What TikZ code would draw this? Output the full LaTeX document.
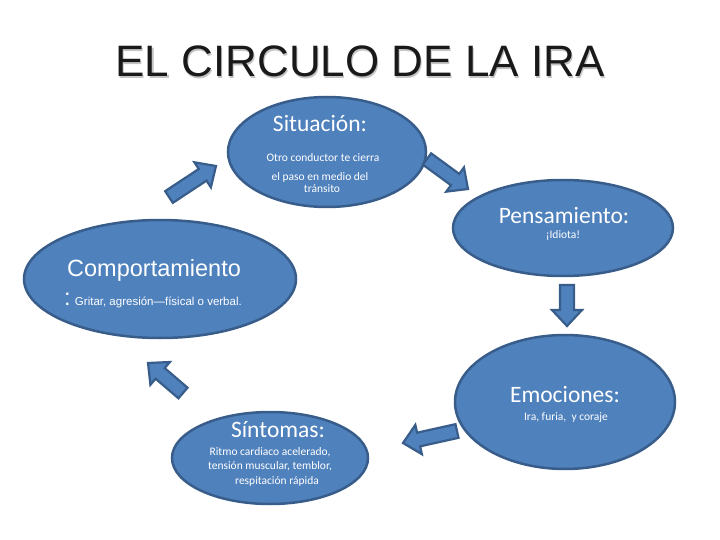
\documentclass[tikz,border=0pt]{standalone}
\usepackage{fontspec}
\setmainfont{Carlito}
\newfontfamily\arialf{Liberation Sans}
\usetikzlibrary{calc,shapes.geometric}
\definecolor{fillblue}{HTML}{4F81BD}
\definecolor{edgeblue}{HTML}{385D8A}
\definecolor{shadowgray}{HTML}{C4C4C4}
\tikzset{
  bubble/.style={ellipse, draw=edgeblue, fill=fillblue, line width=2.5pt, inner sep=0pt},
  barrow/.style={draw=edgeblue, fill=fillblue, line width=2.2pt, line join=miter},
  head/.style={text=white, inner sep=0pt, anchor=base, font=\fontsize{23.5}{26}\selectfont},
  small/.style={text=white, inner sep=0pt, anchor=base, font=\fontsize{11.5}{13}\selectfont},
}
\newcommand\blockarrow[3]{%
  \coordinate (#1n) at ($(#3)!16pt!(#2)$);
  \draw[barrow] ($(#2)!7pt!90:(#3)$) -- ($(#1n)!7pt!90:(#3)$) -- ($(#1n)!15pt!90:(#3)$) -- (#3)
    -- ($(#1n)!15pt!-90:(#3)$) -- ($(#1n)!7pt!-90:(#3)$) -- ($(#2)!7pt!-90:(#3)$) -- cycle;}
\begin{document}
\begin{tikzpicture}[x=1pt,y=-1pt]
\useasboundingbox (0,0) rectangle (720,540);
% title
\node[inner sep=0pt, anchor=base, text=shadowgray, font=\arialf\fontsize{44}{48}\selectfont] (titlesh) at (361.2,78.2) {EL CIRCULO DE LA IRA};
\node[inner sep=0pt, anchor=base, text=black!90, font=\arialf\fontsize{44}{48}\selectfont] (title) at (360,77) {EL CIRCULO DE LA IRA};
% ellipses
\node[bubble, minimum width=198pt, minimum height=110pt] (sit) at (327,152) {};
\node[bubble, minimum width=220pt, minimum height=96pt] (pen) at (563,228) {};
\node[bubble, minimum width=272pt, minimum height=118pt] (com) at (160,279) {};
\node[bubble, minimum width=220pt, minimum height=134pt] (emo) at (565,402) {};
\node[bubble, minimum width=196pt, minimum height=92pt] (sin) at (270,458) {};
% texts
\node[head] (sitt) at (320,132) {Situación:};
\node[small] (sit1) at (323,161.5) {Otro conductor te cierra};
\node[small] (sit2) at (320,180.5) {el paso en medio del};
\node[small] (sit3) at (322,192.5) {tránsito};
\node[head] (pent) at (564,224) {Pensamiento:};
\node[small] (pen1) at (563,239) {¡Idiota!};
\node[text=white, inner sep=0pt, anchor=base west, font=\arialf\fontsize{23.5}{26}\selectfont] (comt) at (67,276) {Comportamiento};
\node[text=white, inner sep=0pt, anchor=base west, font=\arialf\fontsize{11.5}{13}\selectfont] (com1) at (64,305) {{\fontsize{23.5}{26}\selectfont :} Gritar, agresión—físical o verbal.};
\node[head] (emot) at (565,402.5) {Emociones:};
\node[small] (emo1) at (566,420) {Ira, furia,\ \ y coraje};
\node[head] (sint) at (278,437) {Síntomas:};
\node[small] (sin1) at (270,455) {Ritmo cardiaco acelerado,};
\node[small] (sin2) at (270,469) {tensión muscular, temblor,};
\node[small] (sin3) at (277,484) {respitación rápida};
% block arrows
\coordinate (a1s) at (169,197); \coordinate (a1e) at (216,166);
\coordinate (a2s) at (427,159); \coordinate (a2e) at (468,189);
\coordinate (a3s) at (567,285); \coordinate (a3e) at (567,326);
\coordinate (a4s) at (457,431); \coordinate (a4e) at (403,443);
\coordinate (a5s) at (183,393); \coordinate (a5e) at (148,363);
\blockarrow{a1}{a1s}{a1e}
\blockarrow{a2}{a2s}{a2e}
\blockarrow{a3}{a3s}{a3e}
\blockarrow{a4}{a4s}{a4e}
\blockarrow{a5}{a5s}{a5e}
\end{tikzpicture}
\end{document}
